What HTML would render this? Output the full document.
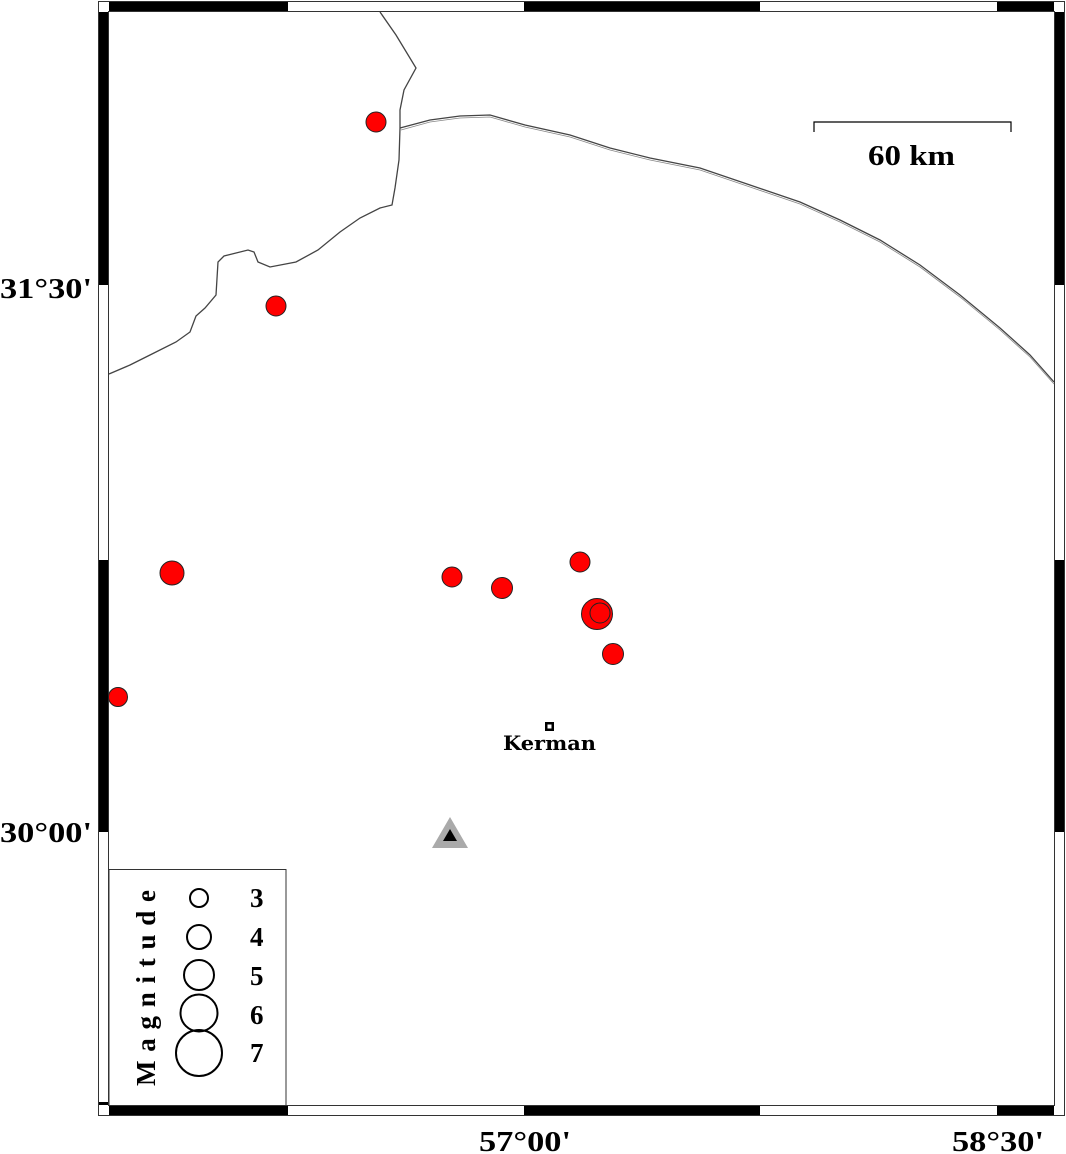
<!DOCTYPE html>
<html><head><style>
html,body{margin:0;padding:0;background:#fff;}
svg{display:block;}
.t{font-family:"Liberation Serif",serif;font-weight:bold;}
</style></head><body>
<svg width="1066" height="1154" viewBox="0 0 1066 1154" xmlns="http://www.w3.org/2000/svg">
<rect x="0" y="0" width="1066" height="1154" fill="#fff"/>
<!-- frame -->
<rect x="98.5" y="1.5" width="966" height="1114" fill="#fff" stroke="#333" stroke-width="1"/>
<rect x="108.5" y="11.5" width="946" height="1094" fill="#fff" stroke="#333" stroke-width="1"/>
<g fill="#000">
<rect x="109" y="2" width="179" height="9"/>
<rect x="524" y="2" width="236" height="9"/>
<rect x="997" y="2" width="57" height="9"/>
<rect x="109" y="1106" width="179" height="9"/>
<rect x="524" y="1106" width="236" height="9"/>
<rect x="997" y="1106" width="57" height="9"/>
<rect x="99" y="12" width="9" height="273"/>
<rect x="99" y="560" width="9" height="272"/>
<rect x="99" y="1102" width="9" height="3"/>
<rect x="1055" y="12" width="9" height="273"/>
<rect x="1055" y="560" width="9" height="272"/>
</g>
<!-- boundaries -->
<g fill="none" stroke="#444" stroke-width="1.3">
<path d="M380,12 L396,35 L416,68 L404,90 L400,110 L400,128 L399,160 L395,188 L392,205 L380,208 L360,218 L340,232 L318,250 L296,262 L270,267 L258,262 L254,252 L248,250 L224,256 L218,262 L216,295 L205,308 L196,316 L190,332 L176,342 L150,355 L130,365 L109,374"/>
<path d="M400,128 L430,120 L460,116 L490,115 L525,125 L570,135 L610,148 L650,158 L700,168 L750,185 L800,202 L840,220 L880,240 L920,265 L960,295 L1000,328 L1030,355 L1054,382"/>
<path d="M401,130 L430,122 L460,118 L490,117 L525,127 L570,137 L610,150 L650,160 L700,170 L750,187 L800,204 L840,222 L880,242 L920,267 L960,297 L1000,330 L1030,357 L1054,384" stroke="#888" stroke-width="0.8"/>
</g>
<!-- events -->
<g fill="#f00" stroke="#222" stroke-width="1">
<circle cx="376" cy="122" r="10"/>
<circle cx="276" cy="306" r="10"/>
<circle cx="172" cy="573" r="12"/>
<circle cx="452" cy="577" r="10"/>
<circle cx="502" cy="588" r="10.5"/>
<circle cx="580" cy="562" r="10"/>
<circle cx="597" cy="614" r="15.5"/>
<circle cx="600" cy="613" r="10"/>
<circle cx="613" cy="654" r="10.5"/>
<circle cx="118" cy="697" r="9.5"/>
</g>
<!-- Kerman -->
<rect x="545" y="722" width="9" height="9" fill="#000"/>
<rect x="547.5" y="724.5" width="4" height="4" fill="#fff"/>
<text x="503" y="750" font-size="20" textLength="93" lengthAdjust="spacingAndGlyphs" style="font-family:'DejaVu Serif',serif;font-weight:bold">Kerman</text>
<!-- station -->
<polygon points="432,848 468,848 450,817" fill="#aaa"/>
<polygon points="443,841 457,841 450,829" fill="#000"/>
<!-- scale bar -->
<path d="M814,132 L814,122 L1011,122 L1011,132" fill="none" stroke="#000" stroke-width="1.2"/>
<text class="t" x="868" y="165" font-size="29" textLength="87" lengthAdjust="spacingAndGlyphs">60 km</text>
<!-- legend -->
<rect x="109" y="869.5" width="177" height="236" fill="#fff" stroke="#333" stroke-width="1"/>
<g fill="none" stroke="#000" stroke-width="2">
<circle cx="199" cy="898" r="9"/>
<circle cx="199" cy="937" r="12"/>
<circle cx="199" cy="975" r="15"/>
<circle cx="199" cy="1013" r="18.5"/>
<circle cx="199" cy="1053" r="23"/>
</g>
<g font-size="27">
<text class="t" x="250" y="907">3</text>
<text class="t" x="250" y="946">4</text>
<text class="t" x="250" y="985">5</text>
<text class="t" x="250" y="1024">6</text>
<text class="t" x="250" y="1062">7</text>
</g>
<text class="t" transform="translate(155,1086) rotate(-90)" font-size="27" textLength="196" lengthAdjust="spacing">Magnitude</text>
<!-- axis labels -->
<g font-size="28">
<text class="t" x="0" y="298" textLength="92" lengthAdjust="spacingAndGlyphs">31°30'</text>
<text class="t" x="0" y="842" textLength="92" lengthAdjust="spacingAndGlyphs">30°00'</text>
<text class="t" x="479" y="1151" textLength="92" lengthAdjust="spacingAndGlyphs">57°00'</text>
<text class="t" x="952" y="1151" textLength="92" lengthAdjust="spacingAndGlyphs">58°30'</text>
</g>
</svg>
</body></html>
